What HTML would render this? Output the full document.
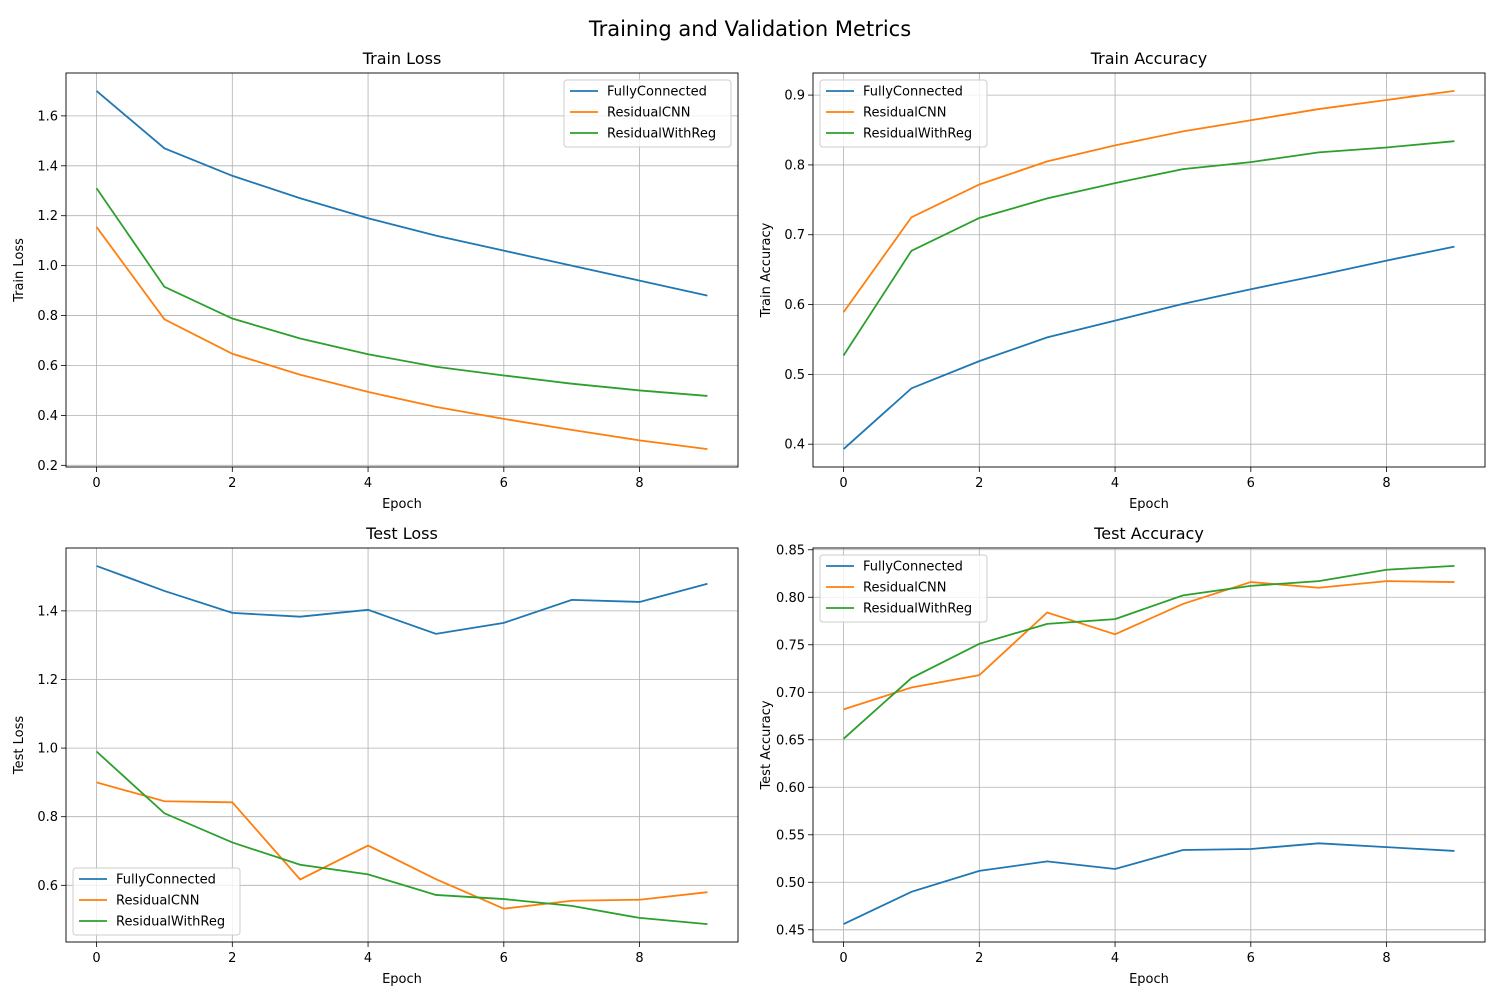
<!DOCTYPE html>
<html><head><meta charset="utf-8"><style>
body{margin:0;background:#fff;font-family:"Liberation Sans","DejaVu Sans",sans-serif;}
svg text{font-family:"DejaVu Sans","Liberation Sans",sans-serif;}
</style></head><body>
<svg id="fig" width="1500" height="1000" xmlns="http://www.w3.org/2000/svg">
<rect width="1500" height="1000" fill="#fff"/>
<text x="750" y="36" text-anchor="middle" font-size="21" fill="#000">Training and Validation Metrics</text>
</svg>
<script>
const epochs=[0,1,2,3,4,5,6,7,8,9];
const seriesNames=["FullyConnected","ResidualCNN","ResidualWithReg"];
const colors=["#1f77b4","#ff7f0e","#2ca02c"];
const trainLossFC=[1.70,1.47,1.36,1.27,1.19,1.12,1.06,1.00,0.94,0.88];
const trainLossRC=[1.155,0.785,0.647,0.563,0.494,0.434,0.386,0.342,0.300,0.265];
const trainLossRW=[1.31,0.915,0.788,0.708,0.645,0.595,0.560,0.527,0.500,0.478];
const trainAccFC=[0.393,0.480,0.519,0.553,0.577,0.601,0.622,0.642,0.663,0.683];
const trainAccRC=[0.589,0.725,0.772,0.805,0.828,0.848,0.864,0.880,0.893,0.906];
const trainAccRW=[0.527,0.677,0.724,0.752,0.774,0.794,0.804,0.818,0.825,0.834];
const testLossFC=[1.531,1.458,1.394,1.383,1.403,1.333,1.365,1.432,1.426,1.479];
const testLossRC=[0.90,0.845,0.842,0.617,0.716,0.618,0.532,0.555,0.558,0.580];
const testLossRW=[0.99,0.81,0.725,0.66,0.632,0.572,0.56,0.54,0.505,0.487];
const testAccFC=[0.456,0.490,0.512,0.522,0.514,0.534,0.535,0.541,0.537,0.533];
const testAccRC=[0.682,0.705,0.718,0.784,0.761,0.793,0.816,0.810,0.817,0.816];
const testAccRW=[0.651,0.715,0.751,0.772,0.777,0.802,0.812,0.817,0.829,0.833];
const xTicks=[0,2,4,6,8];
const trainLossTicks=[0.2,0.4,0.6,0.8,1.0,1.2,1.4,1.6];
const trainAccTicks=[0.4,0.5,0.6,0.7,0.8,0.9];
const testLossTicks=[0.6,0.8,1.0,1.2,1.4];
const testAccTicks=[0.45,0.50,0.55,0.60,0.65,0.70,0.75,0.80,0.85];

const NS="http://www.w3.org/2000/svg";
const svg=document.getElementById('fig');
function mk(tag,attrs,parent){const e=document.createElementNS(NS,tag);for(const k in attrs)e.setAttribute(k,attrs[k]);(parent||svg).appendChild(e);return e;}

function panel(key,L,T,title,ylabel,data,yticks,fmt,legendPos){
  const W=672,H=394;
  const g=mk('g',{});
  
  
  let all=[].concat(...data);
  let mn=Math.min(...all),mx=Math.max(...all),pad=(mx-mn)*0.05;
  const y0=mn-pad,y1=mx+pad,x0=-0.45,x1=9.45;
  const X=v=>L+(v-x0)/(x1-x0)*W;
  const Y=v=>T+H-(v-y0)/(y1-y0)*H;
  xTicks.forEach(t=>{
    const l=mk('line',{x1:X(t),x2:X(t),y1:T,y2:T+H,stroke:'#b0b0b0','stroke-width':0.8},g);
    
    mk('line',{x1:X(t),x2:X(t),y1:T+H,y2:T+H+5,stroke:'#000','stroke-width':0.8},g);
    const tx=mk('text',{x:X(t),y:T+H+20,'text-anchor':'middle','font-size':13},g);
    tx.textContent=t;
  });
  yticks.forEach(t=>{
    const l=mk('line',{x1:L,x2:L+W,y1:Y(t),y2:Y(t),stroke:'#b0b0b0','stroke-width':0.8},g);
    
    mk('line',{x1:L-5,x2:L,y1:Y(t),y2:Y(t),stroke:'#000','stroke-width':0.8},g);
    const tx=mk('text',{x:L-8,y:Y(t)+4.5,'text-anchor':'end','font-size':13},g);
    tx.textContent=t.toFixed(fmt);
  });
  data.forEach((s,i)=>{
    const p=mk('polyline',{points:s.map((v,j)=>X(epochs[j])+','+Y(v)).join(' '),fill:'none',stroke:colors[i],'stroke-width':1.8},g);
    
    
  });
  const fr=mk('rect',{x:L,y:T,width:W,height:H,fill:'none',stroke:'#000','stroke-width':0.9},g);
  
  const tt=mk('text',{x:L+W/2,y:T-9,'text-anchor':'middle','font-size':16},g);
  tt.textContent=title;
  const xl=mk('text',{x:L+W/2,y:T+H+41,'text-anchor':'middle','font-size':13},g);
  xl.textContent='Epoch';
  const yl=mk('text',{x:0,y:0,'text-anchor':'middle','font-size':13,transform:`translate(${L-43},${T+H/2}) rotate(-90)`},g);
  yl.textContent=ylabel;
  const lw=167,lh=67;
  let lx,ly;
  if(legendPos==='ur'){lx=L+W-7-lw;ly=T+7;}
  else if(legendPos==='ul'){lx=L+7;ly=T+7;}
  else {lx=L+7;ly=T+H-7-lh;}
  const lg=mk('g',{},g);
  
  mk('rect',{x:lx,y:ly,width:lw,height:lh,rx:3,fill:'#fff','fill-opacity':0.8,stroke:'#ccc'},lg);
  seriesNames.forEach((n,i)=>{
    const yy=ly+11+i*21;
    const e=mk('g',{},lg);
    
    mk('line',{x1:lx+6,x2:lx+34,y1:yy,y2:yy,stroke:colors[i],'stroke-width':1.8},e);
    const t=mk('text',{x:lx+43,y:yy+4.5,'font-size':13},e);t.textContent=n;
  });
}
panel('train-loss',66,73,'Train Loss','Train Loss',[trainLossFC,trainLossRC,trainLossRW],trainLossTicks,1,'ur');
panel('train-accuracy',813,73,'Train Accuracy','Train Accuracy',[trainAccFC,trainAccRC,trainAccRW],trainAccTicks,1,'ul');
panel('test-loss',66,548,'Test Loss','Test Loss',[testLossFC,testLossRC,testLossRW],testLossTicks,1,'ll');
panel('test-accuracy',813,548,'Test Accuracy','Test Accuracy',[testAccFC,testAccRC,testAccRW],testAccTicks,2,'ul');
</script>
</body></html>
